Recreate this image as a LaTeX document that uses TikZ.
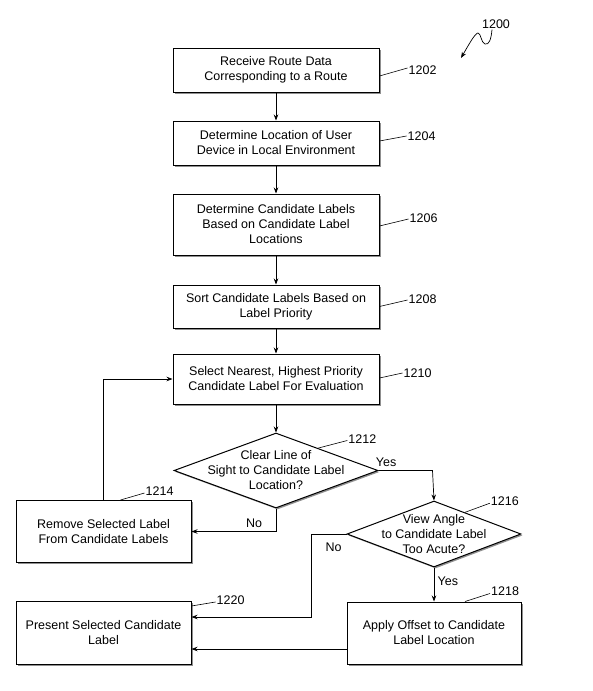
\documentclass[tikz,border=0pt]{standalone}
\usepackage{fontspec}
\setmainfont{Liberation Sans}
\usetikzlibrary{arrows.meta,positioning,shapes.geometric,shadows}

\begin{document}
\begin{tikzpicture}[
    node distance=28pt,
    font=\fontsize{12.5}{15}\selectfont,
    stepbox/.style={draw, line width=1pt, fill=white, align=center, inner sep=2pt,
      minimum width=206pt, drop shadow={shadow xshift=1.5pt, shadow yshift=-1.5pt, fill=black!55, opacity=0.8}},
    decision/.style={diamond, draw, line width=1pt, fill=white, inner sep=0pt,
      drop shadow={shadow xshift=1.5pt, shadow yshift=-1.5pt, fill=black!55, opacity=0.8}},
    refnum/.style={inner sep=1pt},
    flow/.style={-{Stealth[length=6pt, width=4.5pt]}, line width=0.7pt},
    leader/.style={line width=0.6pt}
  ]
    \useasboundingbox (0,0) rectangle (592pt,-691pt);

    % Main column
    \node[stepbox, minimum height=44pt] (receive) at (276pt,-70pt) {Receive Route Data\\Corresponding to a Route};
    \node[stepbox, minimum height=44pt, below=of receive] (locate) {Determine Location of User\\Device in Local Environment};
    \node[stepbox, minimum height=61pt, below=of locate] (candidates) {Determine Candidate Labels\\Based on Candidate Label\\Locations};
    \node[stepbox, minimum height=43pt, below=29pt of candidates] (sortlbl) {Sort Candidate Labels Based on\\Label Priority};
    \node[stepbox, minimum height=50pt, below=25pt of sortlbl] (select) {Select Nearest, Highest Priority\\Candidate Label For Evaluation};

    % Decisions
    \node[decision, minimum width=204pt, minimum height=75pt, below=of select,
      label={[align=center]center:Clear Line of\\Sight to Candidate Label\\Location?}] (sight) {};
    \node[decision, minimum width=174pt, minimum height=66pt,
      label={[align=center]center:View Angle\\to Candidate Label\\Too Acute?}] (angle) at ([xshift=158pt, yshift=-63.5pt]sight.center) {};

    % Bottom boxes
    \node[stepbox, minimum width=174pt, minimum height=62pt, below=34pt of angle] (apply) {Apply Offset to Candidate\\Label Location};
    \node[stepbox, minimum width=175pt, minimum height=63pt, left=155pt of apply] (present) {Present Selected Candidate\\Label};
    \node[stepbox, minimum width=175pt, minimum height=62pt, above=38pt of present] (remove) {Remove Selected Label\\From Candidate Labels};

    % Reference numerals
    \node[refnum] (n1200) at (496pt,-24pt) {1200};
    \node[refnum, right=28pt of receive] (n1202) {1202};
    \node[refnum, right=27pt of locate, yshift=7pt] (n1204) {1204};
    \node[refnum, right=29pt of candidates, yshift=6.5pt] (n1206) {1206};
    \node[refnum, right=28pt of sortlbl, yshift=7.5pt] (n1208) {1208};
    \node[refnum, right=23pt of select, yshift=6pt] (n1210) {1210};
    \node[refnum, right=20pt of sight.north east, yshift=12pt] (n1212) {1212};
    \node[refnum, right=41pt of remove.north, yshift=9pt] (n1214) {1214};
    \node[refnum, right=12pt of angle.north east, yshift=16pt] (n1216) {1216};
    \node[refnum, right=56pt of apply.north, yshift=10pt] (n1218) {1218};
    \node[refnum, right=24pt of present.north east, yshift=1pt] (n1220) {1220};

    % Leaders
    \draw[leader] ([yshift=-6pt]receive.east) -- ([yshift=2pt]n1202.west);
    \draw[leader] ([yshift=2pt]locate.east) -- (n1204.west);
    \draw[leader] ([yshift=-1.5pt]candidates.east) -- ([yshift=-1pt]n1206.west);
    \draw[leader] (sortlbl.east) -- ([yshift=-1pt]n1208.west);
    \draw[leader] ([yshift=1pt]select.east) -- (n1210.west);
    \draw[leader] (sight.28) -- ([yshift=-1pt]n1212.west);
    \draw[leader] ([xshift=17pt]remove.north) -- ([yshift=-2pt]n1214.west);
    \draw[leader] (angle.35) -- ([yshift=-2pt]n1216.west);
    \draw[leader] ([xshift=31pt]apply.north) -- ([yshift=-2pt]n1218.west);
    \draw[leader] ([yshift=-5pt]present.north east) -- ([yshift=-2pt]n1220.west);

    % Figure arrow
    \coordinate (tip1200) at (461pt,-58pt);
    \draw[-{Stealth[length=6pt, width=4.5pt]}, line width=0.7pt] ([xshift=-4pt]n1200.south)
      .. controls (491pt,-40pt) and (489pt,-45pt) .. (485pt,-44pt)
      .. controls (481pt,-43pt) and (481pt,-33pt) .. (478pt,-33pt)
      .. controls (475pt,-33pt) and (468pt,-46pt) .. (tip1200);

    % Edges
    \draw[flow] (receive) -- (locate);
    \draw[flow] (locate) -- (candidates);
    \draw[flow] (candidates) -- (sortlbl);
    \draw[flow] (sortlbl) -- (select);
    \draw[flow] (select) -- (sight);
    \draw[flow] (sight.east) -- node[above, pos=0.14] {Yes} ++(54pt,0) -- (angle.north);
    \draw[flow] (sight.south) |- node[above, pos=0.63] {No} (remove.east);
    \draw[flow] (remove.north) |- (select.west);
    \draw[flow] (angle.south) -- node[right, pos=0.4] {Yes} (apply.north);
    \draw[flow] (angle.west) -- node[below=5pt, pos=0.37] {No} ++(-35pt,0) |- ([yshift=16pt]present.east);
    \draw[flow] ([yshift=-16pt]apply.west) -- ([yshift=-16pt]present.east);
  \end{tikzpicture}
\end{document}
